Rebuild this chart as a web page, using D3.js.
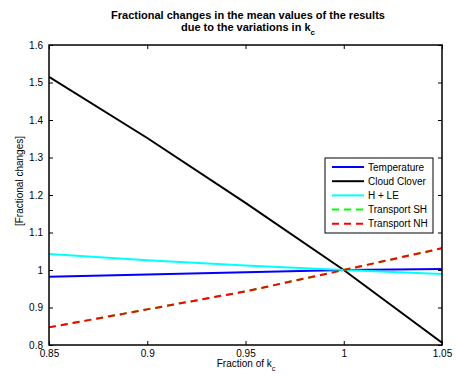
<!DOCTYPE html>
<html>
<head>
<meta charset="utf-8">
<script src="https://cdn.jsdelivr.net/npm/d3@7"></script>
<style>
  html, body { margin: 0; padding: 0; background: #fff; }
  text { font-family: "Liberation Sans", Arial, Helvetica, sans-serif; }
</style>
</head>
<body>
<script>
// Fraction of k_c sampled along the x axis
const fractions = [0.85, 0.9, 0.95, 1.0, 1.05];

// Fractional change of each result's mean value
const temperature = [0.982, 0.988, 0.994, 1.0, 1.003];
const cloudClover = [1.515, 1.352, 1.179, 1.0, 0.806];
const hPlusLE     = [1.043, 1.026, 1.012, 1.0, 0.989];
const transportSH = [0.847, 0.895, 0.943, 1.0, 1.058];
const transportNH = [0.847, 0.895, 0.943, 1.0, 1.058];

const seriesNames = ["Temperature", "Cloud Clover", "H + LE", "Transport SH", "Transport NH"];
const seriesValues = [temperature, cloudClover, hPlusLE, transportSH, transportNH];
const seriesColors = ["#0000ff", "#000000", "#00ffff", "#00ff00", "#ff0000"];
const seriesDashed = [false, false, false, true, true];

const xTicks = [0.85, 0.9, 0.95, 1, 1.05];
const yTicks = [0.8, 0.9, 1, 1.1, 1.2, 1.3, 1.4, 1.5, 1.6];

const W = 456, H = 376;
const L = 49, R = 442, T = 45, B = 345;

const svg = d3.select("body").append("svg")
  .attr("width", W).attr("height", H);

const x = d3.scaleLinear().domain([0.85, 1.05]).range([L, R]);
const y = d3.scaleLinear().domain([0.8, 1.6]).range([B, T]);

const fmt = d => String(+d.toFixed(2));

// Clip region for the data lines
svg.append("clipPath").attr("id", "plotClip")
  .append("rect").attr("x", L).attr("y", T).attr("width", R - L).attr("height", B - T);

// Data lines
const line = d3.line().x((d, i) => x(fractions[i])).y(d => y(d));
const lines = svg.append("g").attr("clip-path", "url(#plotClip)");
seriesValues.forEach((vals, k) => {
  lines.append("path")
    .datum(vals)
    .attr("d", line)
    .attr("fill", "none")
    .attr("stroke", seriesColors[k])
    .attr("stroke-width", 2)
    .attr("stroke-dasharray", seriesDashed[k] ? "7,5" : null);
});

// Axes (ticks point inward, mirrored on top and right)
const tickStyle = g => {
  g.select(".domain").remove();
  g.selectAll(".tick line").attr("stroke", "#000").attr("stroke-width", 1);
  g.selectAll(".tick text").attr("fill", "#000").attr("font-size", 10)
    .attr("font-family", "'Liberation Sans', Arial, sans-serif");
};

svg.append("g").attr("transform", `translate(0,${B})`)
  .call(d3.axisBottom(x).tickValues(xTicks).tickFormat(fmt).tickSizeInner(-4).tickPadding(5))
  .call(tickStyle);
svg.append("g").attr("transform", `translate(0,${T})`)
  .call(d3.axisTop(x).tickValues(xTicks).tickFormat("").tickSizeInner(-4))
  .call(tickStyle);
svg.append("g").attr("transform", `translate(${L},0)`)
  .call(d3.axisLeft(y).tickValues(yTicks).tickFormat(fmt).tickSizeInner(-4).tickPadding(6))
  .call(tickStyle);
svg.append("g").attr("transform", `translate(${R},0)`)
  .call(d3.axisRight(y).tickValues(yTicks).tickFormat("").tickSizeInner(-4))
  .call(tickStyle);

// Plot frame
svg.append("rect")
  .attr("x", L).attr("y", T).attr("width", R - L).attr("height", B - T)
  .attr("fill", "none").attr("stroke", "#000").attr("stroke-width", 1.5);

// Title
const title = svg.append("text")
  .attr("x", 248).attr("text-anchor", "middle")
  .attr("font-size", 11).attr("font-weight", "bold");
title.append("tspan").attr("x", 248).attr("y", 19)
  .text("Fractional changes in the mean values of the results");
const t2 = title.append("tspan").attr("x", 248).attr("y", 31);
t2.append("tspan").text("due to the variations in k");
t2.append("tspan").attr("dy", 4).attr("font-size", 8).text("c");

// Axis labels
const xl = svg.append("text").attr("x", 246).attr("y", 367)
  .attr("text-anchor", "middle").attr("font-size", 10);
xl.append("tspan").text("Fraction of k");
xl.append("tspan").attr("dy", 4).attr("font-size", 7).text("c");

svg.append("text")
  .attr("transform", "translate(23,181) rotate(-90)")
  .attr("text-anchor", "middle").attr("font-size", 10)
  .text("[Fractional changes]");

// Legend
const lg = svg.append("g");
lg.append("rect")
  .attr("x", 325).attr("y", 158).attr("width", 108).attr("height", 75)
  .attr("fill", "#fff").attr("stroke", "#000").attr("stroke-width", 1);
seriesNames.forEach((name, k) => {
  const yy = 167 + k * 14.2;
  lg.append("line")
    .attr("x1", 332).attr("x2", 364).attr("y1", yy).attr("y2", yy)
    .attr("stroke", seriesColors[k]).attr("stroke-width", 2)
    .attr("stroke-dasharray", seriesDashed[k] ? "7,5" : null);
  lg.append("text")
    .attr("x", 368).attr("y", yy + 3.6).attr("font-size", 10)
    .text(name);
});
</script>
</body>
</html>
